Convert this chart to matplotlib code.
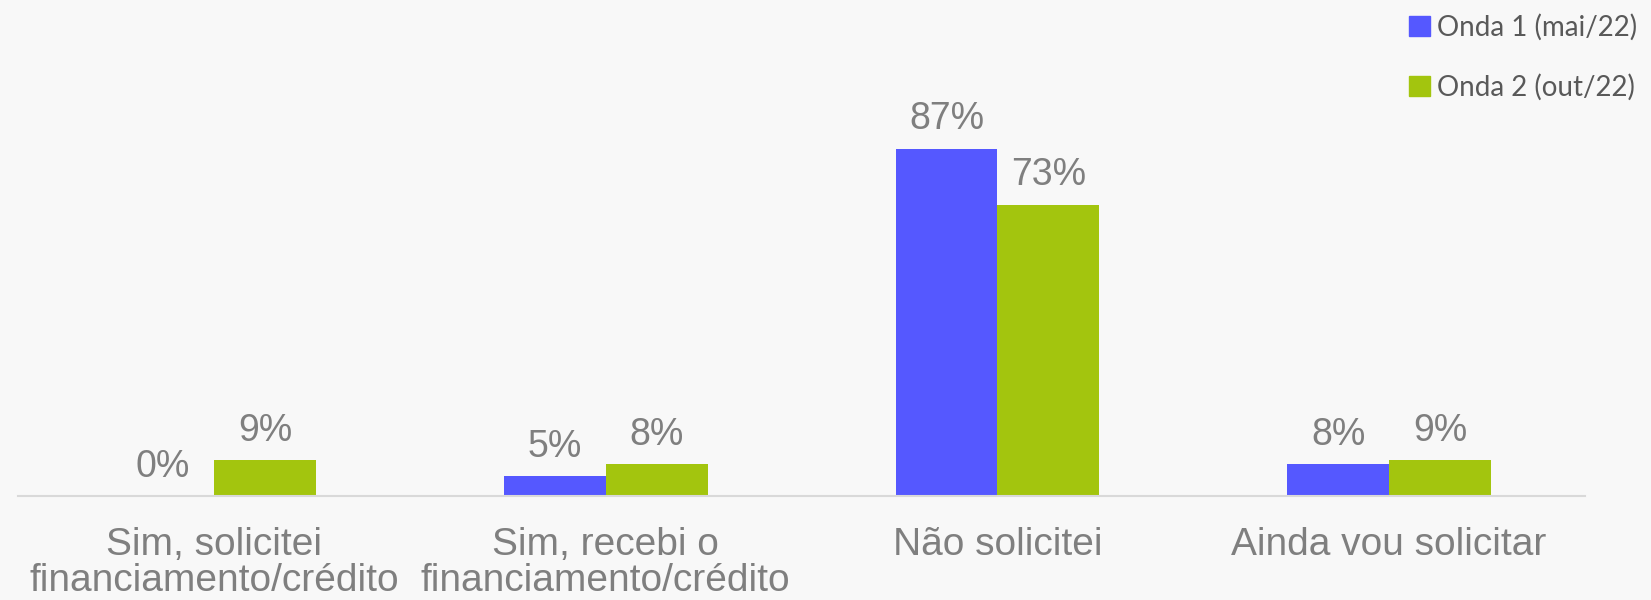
import matplotlib.pyplot as plt
from matplotlib.patches import Patch

# data
categories = ["Sim, solicitei\nfinanciamento/crédito", "Sim, recebi o\nfinanciamento/crédito",
              "Não solicitei", "Ainda vou solicitar"]
onda1 = [0, 5, 87, 8]
onda2 = [9, 8, 73, 9]
series_names = ["Onda 1 (mai/22)", "Onda 2 (out/22)"]

BLUE = "#5558ff"
GREEN = "#a3c50e"
BG = "#f8f8f8"
GRAY = "#7f7f7f"

plt.rcParams["font.family"] = ["Liberation Sans", "DejaVu Sans"]

fig = plt.figure(figsize=(16.51, 6), dpi=100, facecolor=BG)
ax = fig.add_axes([0.011, 0.1733, 0.949, 0.665], facecolor=BG)

w = 0.26
x = list(range(len(categories)))
b1 = ax.bar([i - w / 2 for i in x], onda1, width=w, color=BLUE)
b2 = ax.bar([i + w / 2 for i in x], onda2, width=w, color=GREEN)

for bars, vals in ((b1, onda1), (b2, onda2)):
    for bar, v in zip(bars, vals):
        ax.annotate(f"{v}%", (bar.get_x() + bar.get_width() / 2, v),
                    xytext=(0, 14), textcoords="offset points",
                    ha="center", va="baseline", fontsize=27, color=GRAY)

ax.set_xlim(-0.5, 3.5)
ax.set_ylim(0, 100)
ax.set_xticks(x)
ax.set_xticklabels(categories, fontsize=28, color=GRAY, linespacing=1.0)
ax.tick_params(axis="x", length=0, pad=22)
ax.set_yticks([])
for s in ("top", "right", "left"):
    ax.spines[s].set_visible(False)
ax.spines["bottom"].set_color("#d9d9d9")
ax.spines["bottom"].set_linewidth(1.5)

handles = [Patch(color=BLUE), Patch(color=GREEN)]
leg = fig.legend(handles, series_names, loc="upper right", bbox_to_anchor=(1.0, 1.0),
                 frameon=False, handlelength=0.75, handleheight=0.75, handletextpad=0.25,
                 labelspacing=1.2, borderaxespad=0.1,
                 prop={"family": ["Lato", "DejaVu Sans"], "size": 20})
for t in leg.get_texts():
    t.set_color("#595959")

fig.savefig("out.png", dpi=100, facecolor=BG)
